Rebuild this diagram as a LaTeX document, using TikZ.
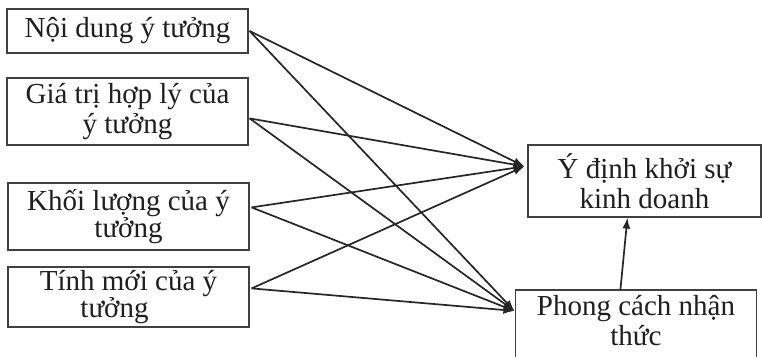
\documentclass[tikz,border=0pt]{standalone}
\usepackage{fontspec}
\setmainfont{Liberation Serif}
\usetikzlibrary{arrows.meta,calc}
\begin{document}
\begin{tikzpicture}[x=1pt,y=-1pt,
  box/.style={draw=black!75,line width=1.2pt,rectangle,inner sep=0pt,align=center,
    text=black!88,font=\fontsize{29}{30}\selectfont},
  link/.style={draw=black!85,line width=1.7pt,-{Latex[length=11pt,width=8pt]}}]
\useasboundingbox (0,0) rectangle (762,356);
\fill[white] (0,0) rectangle (762,356);
\node[box,minimum width=241pt,minimum height=44pt] (b1) at (127.5,31) {Nội dung ý tưởng};
\node[box,minimum width=241pt,minimum height=67pt] (b2) at (127.5,111.5) {Giá trị hợp lý của\\ý tưởng};
\node[box,minimum width=241pt,minimum height=67pt,font=\fontsize{29}{25}\selectfont] (b3) at (128.5,216.5) {Khối lượng của ý\\tưởng};
\node[box,minimum width=241pt,minimum height=60pt,font=\fontsize{29}{18}\selectfont] (b4) at (128.5,297) {Tính mới của ý\\\hspace*{-28pt}tưởng};
\node[box,minimum width=233pt,minimum height=72pt] (b5) at (644.5,181) {Ý định khởi sự\\kinh doanh};
\node[box,draw=none,minimum width=240pt,minimum height=61pt] (b6) at (636,321) {Phong cách nhận\\thức};
\draw[black!75,line width=1.2pt] ($(b6.south west)+(0,12)$) -- (b6.north west) -- (b6.north east) -- ($(b6.south east)+(0,12)$);
\coordinate (s1) at ($(b1.east)+(1,0)$);
\coordinate (s2) at ($(b2.north east)+(1,41)$);
\coordinate (s3) at ($(b3.north east)+(2,25)$);
\coordinate (s4) at ($(b4.north east)+(2,22)$);
\coordinate (t1) at ($(b5.north west)+(-3,22)$);
\coordinate (t2) at ($(b6.north west)+(-1,21)$);
\foreach \s in {s1,s2,s3,s4}{
  \draw[link] (\s) -- (t1);
  \draw[link] (\s) -- (t2);
}
\draw[link] ($(b6.north west)+(105,0)$) -- ($(b5.south west)+(100,0)$);
\end{tikzpicture}
\end{document}
